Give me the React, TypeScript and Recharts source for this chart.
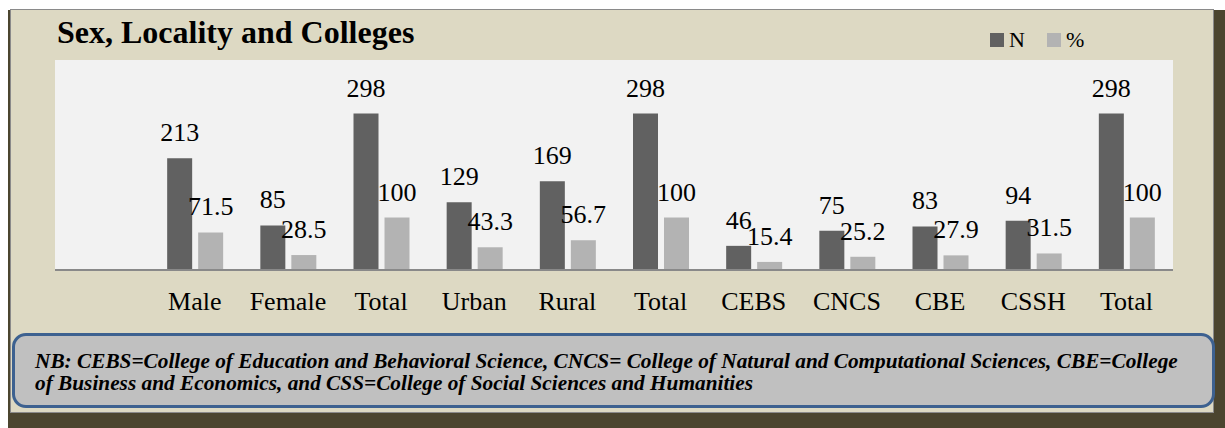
import { BarChart, Bar, XAxis, YAxis, CartesianGrid, LabelList, Legend } from "recharts";

const categories = ["", "Male", "Female", "Total", "Urban", "Rural", "Total", "CEBS", "CNCS", "CBE", "CSSH", "Total"];
const countN = [null, 213, 85, 298, 129, 169, 298, 46, 75, 83, 94, 298];
const percent = [null, 71.5, 28.5, 100, 43.3, 56.7, 100, 15.4, 25.2, 27.9, 31.5, 100];

const data = categories.map((cat, i) => ({ cat, n: countN[i], pct: percent[i] }));

const SERIF = "'Liberation Serif', 'Times New Roman', serif";
const DARK = "#616161";
const LIGHT = "#b3b3b3";

// value label above each bar, serif like the source
const renderValue = (p: any) => {
  if (p.value == null) return null;
  return (
    <text
      x={p.x + p.width / 2}
      y={p.y - 17}
      textAnchor="middle"
      fill="#000"
      fontSize={26}
      fontFamily={SERIF}
    >
      {p.value}
    </text>
  );
};

const renderLegend = (props: any) => {
  const { payload } = props;
  return (
    <div style={{ display: "flex", fontFamily: SERIF, fontSize: 22, lineHeight: "22px", color: "#000" }}>
      {payload.map((entry: any, i: number) => (
        <div key={i} style={{ display: "flex", alignItems: "center", marginRight: 22 }}>
          <span style={{ width: 14, height: 14, background: entry.color, marginRight: 5, display: "inline-block" }} />
          <span>{entry.value}</span>
        </div>
      ))}
    </div>
  );
};

export default function App() {
  return (
    <div
      style={{
        position: "absolute",
        left: 0,
        top: 0,
        width: 1225,
        height: 428,
        background: "#fff",
        overflow: "hidden",
        fontFamily: SERIF,
      }}
    >
      {/* frame + shadow */}
      <div style={{ position: "absolute", left: 8, top: 10, width: 1217, height: 418, background: "#4b452f" }} />
      <div
        style={{
          position: "absolute",
          left: 10,
          top: 9,
          width: 1202,
          height: 402,
          background: "#ddd9c3",
          border: "1.5px solid #8a8a8a",
        }}
      />

      {/* title */}
      <div
        style={{
          position: "absolute",
          left: 57,
          top: 16,
          fontWeight: "bold",
          fontSize: 32,
          lineHeight: "32px",
          color: "#000",
          whiteSpace: "nowrap",
        }}
      >
        Sex, Locality and Colleges
      </div>

      {/* chart */}
      <div style={{ position: "absolute", left: 0, top: 0 }}>
        <BarChart
          width={1225}
          height={428}
          data={data}
          margin={{ top: 60, right: 52, left: 55, bottom: 128 }}
          barGap={6}
          barSize={25}
        >
          <CartesianGrid horizontal={false} vertical={false} fill="#f2f2f2" />
          <XAxis
            dataKey="cat"
            height={30}
            interval={0}
            tickLine={false}
            tickSize={0}
            tickMargin={22}
            axisLine={{ stroke: "#898989", strokeWidth: 2 }}
            tick={{ fill: "#000", fontSize: 26, fontFamily: SERIF }}
          />
          <YAxis hide domain={[0, 400]} />
          <Legend
            layout="horizontal"
            verticalAlign="middle"
            align="center"
            itemSorter="dataKey"
            content={renderLegend}
            wrapperStyle={{ top: 29, left: 990, width: 140, height: 22 }}
          />
          <Bar dataKey="n" name="N" fill={DARK} isAnimationActive={false}>
            <LabelList dataKey="n" content={renderValue} />
          </Bar>
          <Bar dataKey="pct" name="%" fill={LIGHT} isAnimationActive={false}>
            <LabelList dataKey="pct" content={renderValue} />
          </Bar>
        </BarChart>
      </div>

      {/* note box */}
      <div
        style={{
          position: "absolute",
          left: 12,
          top: 333,
          width: 1197,
          height: 69,
          background: "#c0c0c0",
          border: "3px solid #3d6190",
          borderRadius: 14,
        }}
      />
      <div
        style={{
          position: "absolute",
          left: 35,
          top: 350,
          width: 1175,
          fontWeight: "bold",
          fontStyle: "italic",
          fontSize: 21.3,
          lineHeight: "22px",
          color: "#000",
        }}
      >
        <div style={{ whiteSpace: "nowrap" }}>
          NB: CEBS=College of Education and Behavioral Science, CNCS= College of Natural and Computational Sciences, CBE=College
        </div>
        <div style={{ whiteSpace: "nowrap" }}>of Business and Economics, and CSS=College of Social Sciences and Humanities</div>
      </div>
    </div>
  );
}
